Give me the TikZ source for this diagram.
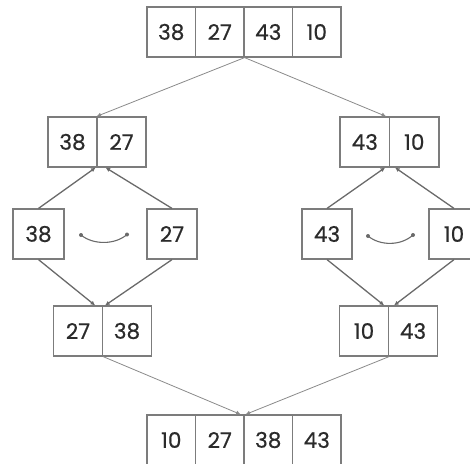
\documentclass[tikz,border=0pt]{standalone}
\usepackage{fontspec}
\setmainfont{Poppins}
\newfontfamily\digitfont{Poppins}[FakeBold=0.6]
\usetikzlibrary{arrows.meta,calc}
\definecolor{txt}{HTML}{2B2B2B}
\definecolor{ln}{HTML}{6A6A6A}
\definecolor{lnl}{HTML}{8A8A8A}
\definecolor{bx}{HTML}{7C7C7C}
\begin{document}
\begin{tikzpicture}[x=1pt,y=-1pt,
  cell/.style={draw=bx, line width=1.2pt, minimum width=#1, minimum height=50pt,
    inner sep=0pt, text=txt, font=\digitfont\fontsize{21.5}{21.5}\selectfont},
  cell/.default=48.5pt,
  thinarrow/.style={draw=lnl, line width=0.8pt, -{Latex[length=4.5pt,width=4.5pt]}},
  thickarrow/.style={draw=ln, line width=1.3pt, -{Latex[length=4.5pt,width=4.5pt]}},
  swap/.style={draw=ln, line width=1.1pt},
  dot/.style={fill=ln}]
\useasboundingbox (0,0) rectangle (470,463);
% top array
\node[cell] (t1) at (171.25,32) {38};
\node[cell] (t2) at (219.75,32) {27};
\node[cell] (t3) at (268.25,32) {43};
\node[cell] (t4) at (316.75,32) {10};
% upper pairs
\node[cell=49pt] (a1) at (72.5,142) {38};
\node[cell=49pt] (a2) at (121.5,142) {27};
\node[cell=49.5pt] (b1) at (364.75,142) {43};
\node[cell=49.5pt] (b2) at (414.25,142) {10};
% singles
\node[cell=51pt] (s1) at (38.5,234) {38};
\node[cell=50pt] (s2) at (172,234) {27};
\node[cell=50pt] (s3) at (327,234) {43};
\node[cell=50pt] (s4) at (454,234) {10};
% lower pairs
\node[cell=49pt] (c1) at (78,331) {27};
\node[cell=49pt] (c2) at (127,331) {38};
\node[cell=49pt] (d1) at (364,331) {10};
\node[cell=49pt] (d2) at (413,331) {43};
% bottom array
\node[cell] (e1) at (171.25,440) {10};
\node[cell] (e2) at (219.75,440) {27};
\node[cell] (e3) at (268.25,440) {38};
\node[cell] (e4) at (316.75,440) {43};
% arrow end points
\coordinate (aL) at ($(a1.south east)+(-2,0)$);
\coordinate (aR) at ($(a1.south east)+(8,0)$);
\coordinate (bL) at ($(b1.south east)+(-5,0)$);
\coordinate (bR) at ($(b1.south east)+(5,0)$);
\coordinate (cL) at ($(c1.north east)+(-8,0)$);
\coordinate (cR) at ($(c1.north east)+(2,0)$);
\coordinate (dL) at ($(d1.north east)+(-5,0)$);
\coordinate (dR) at ($(d1.north east)+(5,0)$);
\coordinate (eL) at ($(e2.north east)+(-4,0)$);
\coordinate (eR) at ($(e2.north east)+(1,0)$);
\coordinate (aT) at ($(a1.north east)+(-1,0)$);
\coordinate (bT) at ($(b1.north east)+(-4,0)$);
% top splits
\draw[thinarrow] (t2.south east) -- (aT);
\draw[thinarrow] (t2.south east) -- (bT);
% singles up to pairs
\draw[thickarrow] (s1.north) -- (aL);
\draw[thickarrow] (s2.north) -- (aR);
\draw[thickarrow] (s3.north) -- (bL);
\draw[thickarrow] (s4.north) -- (bR);
% singles down to sorted pairs
\draw[thickarrow] (s1.south) -- (cL);
\draw[thickarrow] (s2.south) -- (cR);
\draw[thickarrow] (s3.south) -- (dL);
\draw[thickarrow] (s4.south) -- (dR);
% merge
\draw[thinarrow] (c1.south east) -- (eL);
\draw[thinarrow] (d1.south east) -- (eR);
% swap marks
\coordinate (w1) at (81,235);
\coordinate (w2) at (127,234.5);
\coordinate (w3) at (368,236);
\coordinate (w4) at (413,235);
\draw[swap] (w1) .. controls (93,245) and (115,245) .. (w2);
\draw[swap] (w3) .. controls (380,246) and (401,246) .. (w4);
\fill[dot] (w1) circle (2pt) (w2) circle (2pt) (w3) circle (2pt) (w4) circle (2pt);
\end{tikzpicture}
\end{document}
